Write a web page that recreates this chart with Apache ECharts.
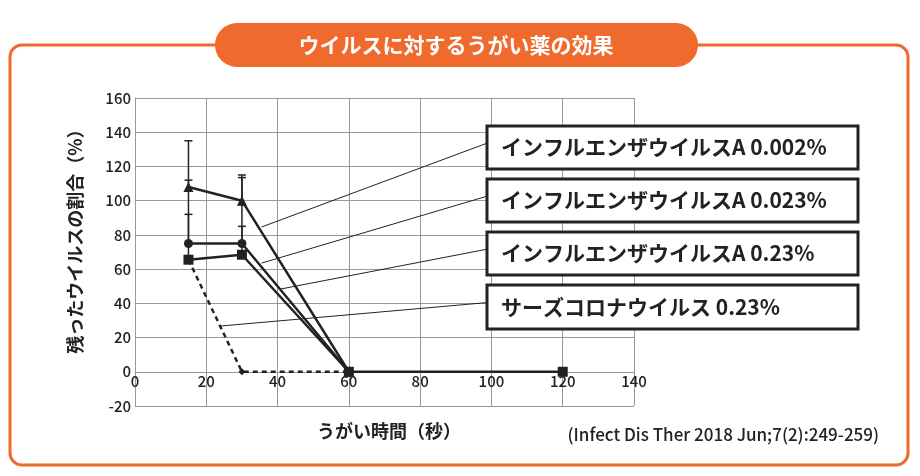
<!DOCTYPE html>
<html><head><meta charset="utf-8">
<script src="https://cdn.jsdelivr.net/npm/echarts@6/dist/echarts.min.js"></script>
<style>html,body{margin:0;padding:0;background:#fff}#c{width:920px;height:476px}</style>
</head><body><div id="c"></div>
<script>
const FONT = '"Noto Sans CJK JP", "Noto Sans", sans-serif';
const title = 'ウイルスに対するうがい薬の効果';
const yName = '残ったウイルスの割合（%）';
const xName = 'うがい時間（秒）';
const citation = '(Infect Dis Ther 2018 Jun;7(2):249-259)';
const seriesNames = ['インフルエンザウイルスA 0.002%','インフルエンザウイルスA 0.023%','インフルエンザウイルスA 0.23%','サーズコロナウイルス 0.23%'];
const fluA0002 = [[15,108],[30,100],[60,0]];
const fluA0023 = [[15,75],[30,75],[60,0]];
const fluA023 = [[15,65.5],[30,68.4],[60,0],[120,0]];
const sars023 = [[15,65.5],[30,0],[60,0]];
// error bars: [x, value, upper]
const errA0002 = [[15,108,135],[30,100,115]];
const errA0023 = [[15,75,92],[30,75,85]];
const errA023 = [[15,65.5,112],[30,68.4,113.5]];
// leader anchors on lines (data coords)
const anchors = [[35.5,84.6],[35.5,63.5],[40.7,48.3],[23.85,26.7]];
const xTicks = {min:0,max:140,interval:20};
const yTicks = {min:-20,max:160,interval:20};

const chart = echarts.init(document.getElementById('c'));
const ORANGE = '#F0692D', INK = '#222';
function errSeries(data){
  return {type:'custom', data:data, z:5, silent:true,
    renderItem:function(p,api){
      const x=api.value(0), v=api.value(1), u=api.value(2);
      const a=api.coord([x,v]), b=api.coord([x,u]);
      return {type:'group',children:[
        {type:'line',shape:{x1:a[0],y1:a[1],x2:b[0],y2:b[1]},style:{stroke:INK,lineWidth:1.5}},
        {type:'line',shape:{x1:b[0]-4,y1:b[1],x2:b[0]+4,y2:b[1]},style:{stroke:INK,lineWidth:1.5}}
      ]};
    }};
}
const lineStyle = {color:INK,width:2.5};
const option = {
  animation:false,
  grid:{left:135,right:286,top:98,bottom:70},
  xAxis:{type:'value',min:xTicks.min,max:xTicks.max,interval:xTicks.interval,offset:-34,
    axisLine:{onZero:false,lineStyle:{color:'#999',width:1}},axisTick:{show:false},
    axisLabel:{color:INK,fontSize:15,fontWeight:500,fontFamily:FONT,margin:2},
    splitLine:{show:true,lineStyle:{color:'#999',width:1}}},
  yAxis:{type:'value',min:yTicks.min,max:yTicks.max,interval:yTicks.interval,
    axisLine:{show:true,lineStyle:{color:'#999',width:1}},axisTick:{show:false},
    axisLabel:{color:INK,fontSize:15,fontWeight:500,fontFamily:FONT,margin:4},
    splitLine:{show:true,lineStyle:{color:'#999',width:1}}},
  series:[
    {name:seriesNames[3],type:'line',data:sars023,symbol:'diamond',symbolSize:7,itemStyle:{color:INK},lineStyle:{color:INK,width:2.5,type:[5,4]},z:3},
    {name:seriesNames[0],type:'line',data:fluA0002,symbol:'triangle',symbolSize:10,itemStyle:{color:INK},lineStyle:lineStyle,z:4},
    {name:seriesNames[1],type:'line',data:fluA0023,symbol:'circle',symbolSize:9,itemStyle:{color:INK},lineStyle:lineStyle,z:4},
    {name:seriesNames[2],type:'line',data:fluA023,symbol:'rect',symbolSize:10,itemStyle:{color:INK},lineStyle:lineStyle,z:4},
    errSeries(errA0002), errSeries(errA0023), errSeries(errA023)
  ]
};
chart.setOption(option);

const boxes = [[487,126,371,43],[487,179,371,43],[487,232,371,43],[487,285,371,44]];
const g = [
  {type:'rect',shape:{x:10,y:45,width:898,height:420,r:12},style:{fill:'none',stroke:ORANGE,lineWidth:3},z:0},
  {type:'rect',shape:{x:215,y:23,width:483,height:44,r:22},style:{fill:ORANGE},z:10},
  {type:'text',x:456,y:45,style:{text:title,fill:'#fff',font:'bold 21px '+FONT,align:'center',verticalAlign:'middle'},z:11},
  {type:'text',x:75,y:237,rotation:Math.PI/2,style:{text:yName,fill:INK,font:'bold 18px '+FONT,align:'center',verticalAlign:'middle'},z:11},
  {type:'text',x:389,y:431,style:{text:xName,fill:INK,font:'bold 18px '+FONT,align:'center',verticalAlign:'middle'},z:11},
  {type:'text',x:879,y:435,style:{text:citation,fill:INK,font:'500 17px '+FONT,align:'right',verticalAlign:'middle'},z:11}
];
boxes.forEach(function(b,i){
  const p = chart.convertToPixel({gridIndex:0}, anchors[i]);
  const ey = b[1] + b[3]*0.4;
  g.push({type:'line',shape:{x1:p[0],y1:p[1],x2:b[0],y2:ey},style:{stroke:INK,lineWidth:1},z:9});
  g.push({type:'rect',shape:{x:b[0],y:b[1],width:b[2],height:b[3]},style:{fill:'#fff',stroke:INK,lineWidth:3},z:10});
  g.push({type:'text',x:b[0]+14,y:b[1]+b[3]/2,style:{text:seriesNames[i],fill:INK,font:'bold 21px '+FONT,align:'left',verticalAlign:'middle'},z:11});
});
chart.setOption({graphic:g});
</script></body></html>
